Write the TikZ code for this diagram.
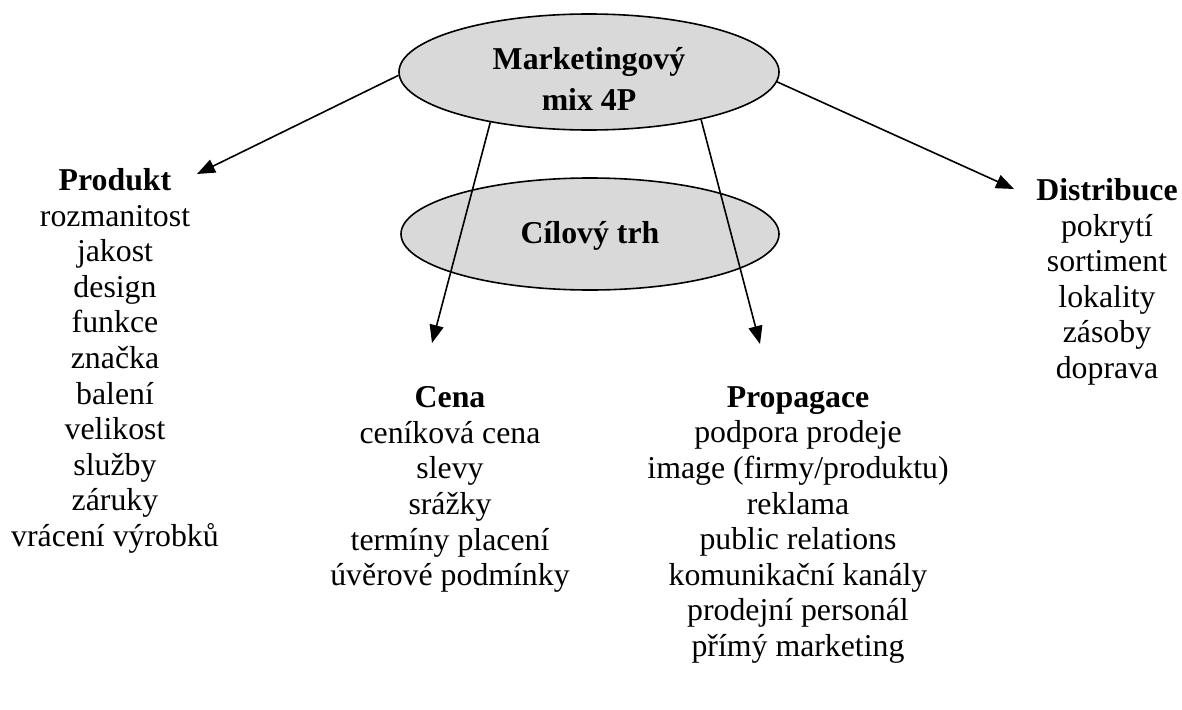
\documentclass[tikz,border=0pt]{standalone}
\usepackage{fontspec}
\setmainfont{Liberation Serif}
\usetikzlibrary{shapes.geometric,arrows.meta}
\tikzset{
  oval/.style={ellipse, draw, line width=1.6pt, fill=black!15, inner sep=0pt, align=center,
    font=\bfseries\fontsize{31.8}{41}\selectfont},
  col/.style={anchor=north, inner sep=0pt, align=center, font=\fontsize{31.8}{35.6}\selectfont},
  arr/.style={line width=1.6pt, -{Triangle[length=18pt,width=14pt]}}
}
\begin{document}
\begin{tikzpicture}[x=1pt,y=1pt]
\useasboundingbox (0,0) rectangle (1182,-709);
\node[oval, minimum width=380pt, minimum height=116pt] (mix) at (589,-72) {\rule{0pt}{35pt}Marketingový\\mix 4P};
\node[oval, minimum width=378pt, minimum height=112pt] (trh) at (590,-234) {\rule{0pt}{26pt}Cílový trh};
\node[col] (produkt) at (115,-168.3) {\textbf{Produkt}\\rozmanitost\\jakost\\design\\funkce\\značka\\balení\\velikost\\služby\\záruky\\vrácení výrobků};
\node[col] (cena) at (450,-386.5) {\textbf{Cena}\\ceníková cena\\slevy\\srážky\\termíny placení\\úvěrové podmínky};
\node[col] (propagace) at (798,-386.3) {\textbf{Propagace}\\podpora prodeje\\image (firmy/produktu)\\reklama\\public relations\\komunikační kanály\\prodejní personál\\přímý marketing};
\node[col] (distribuce) at (1107,-178.3) {\textbf{Distribuce}\\pokrytí\\sortiment\\lokality\\zásoby\\doprava};
\coordinate (tipP) at (197,-174);
\coordinate (tipC) at (432,-343);
\coordinate (tipR) at (760,-344);
\coordinate (tipD) at (1014,-189);
\draw[arr] (mix.181) -- (tipP);
\draw[arr] (mix.207) -- (tipC);
\draw[arr] (mix.337.6) -- (tipR);
\draw[arr] (mix.357) -- (tipD);
\end{tikzpicture}
\end{document}
